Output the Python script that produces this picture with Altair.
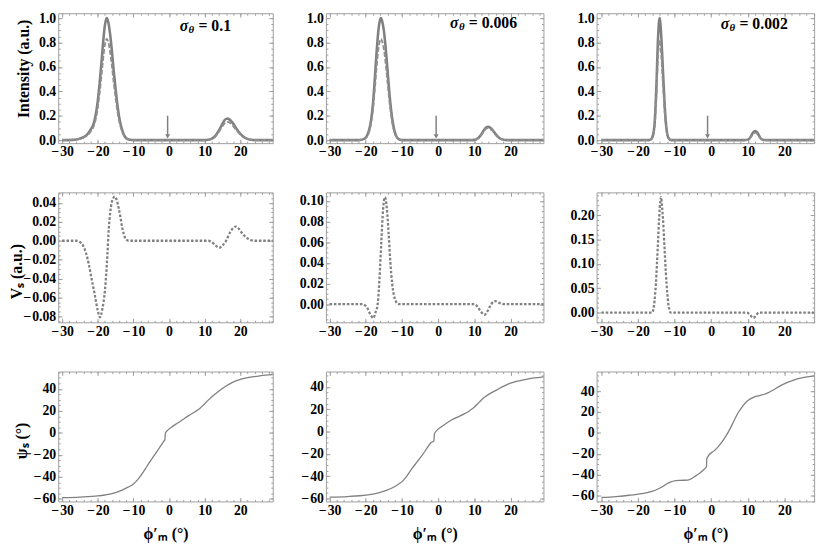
import altair as alt
import pandas as pd

FONT = "Liberation Serif"
LINE = "#808080"
DASH = "#8f8f8f"
FRAME = "#9e9e9e"

# ---------------- layout / annotation values ----------------
X_DOMAINS = [[-31.1, 29.1], [-31.0, 29.1], [-31.3, 28.1]]
WIDTHS = [218, 221, 221]
HEIGHT = 132
SIGMAS = ["0.1", "0.006", "0.002"]
ARROW_X = [-0.4, -0.55, -1.0]
ANNOT_X = [3.0, 3.3, 2.6]
ANNOT_Y = [0.935, 0.96, 0.95]

X_MAJOR = [-30, -20, -10, 0, 10, 20]
X_MINOR = list(range(-30, 30, 2))

# ---------------- Row 1 : Intensity ----------------
int1_x = [-30, -27, -25.5, -24, -23, -22, -21, -20.5, -20, -19.5,
          -19, -18.5, -18, -17.5, -17, -16.5, -16, -15.5, -15, -14.5,
          -14, -13.5, -13, -12.5, -12, -11, -10, 0, 10, 11,
          12, 13, 14, 15, 15.5, 16, 16.5, 17, 18, 19,
          20, 21, 22, 23, 24, 29.1]
int1_solid = [0, 0.002, 0.008, 0.025, 0.045, 0.085, 0.15, 0.22, 0.32, 0.46,
              0.62, 0.8, 0.94, 1.0, 0.96, 0.86, 0.72, 0.56, 0.42, 0.29,
              0.19, 0.12, 0.07, 0.035, 0.015, 0.003, 0, 0, 0, 0.003,
              0.012, 0.035, 0.08, 0.135, 0.16, 0.174, 0.176, 0.168, 0.135, 0.09,
              0.052, 0.025, 0.01, 0.003, 0, 0]
int1_dash = [0, 0.002, 0.007, 0.021, 0.037, 0.07, 0.125, 0.18, 0.265, 0.38,
             0.515, 0.665, 0.78, 0.83, 0.8, 0.715, 0.6, 0.465, 0.35, 0.24,
             0.158, 0.1, 0.058, 0.029, 0.012, 0.002, 0, 0, 0, 0.003,
             0.01, 0.03, 0.068, 0.115, 0.136, 0.148, 0.15, 0.143, 0.115, 0.077,
             0.044, 0.021, 0.008, 0.003, 0, 0]

int2_x = [-30, -22, -21, -20, -19.5, -19, -18.5, -18, -17.5, -17,
          -16.5, -16, -15.8, -15.5, -15, -14.5, -14, -13.5, -13, -12.5,
          -12, -11.5, -11, -10, 0, 9, 10, 10.5, 11, 11.5,
          12, 12.5, 13, 13.7, 14.5, 15, 15.5, 16, 16.5, 17,
          18, 19, 29.1]
int2_solid = [0, 0, 0.004, 0.02, 0.045, 0.09, 0.17, 0.3, 0.5, 0.72,
              0.9, 0.99, 1.0, 0.98, 0.9, 0.76, 0.58, 0.4, 0.25, 0.14,
              0.07, 0.03, 0.01, 0, 0, 0, 0.002, 0.006, 0.015, 0.03,
              0.05, 0.075, 0.097, 0.11, 0.1, 0.085, 0.065, 0.045, 0.028, 0.015,
              0.004, 0, 0]
int2_dash = [0, 0, 0.003, 0.017, 0.037, 0.075, 0.141, 0.249, 0.415, 0.598,
             0.747, 0.822, 0.83, 0.813, 0.747, 0.631, 0.481, 0.332, 0.208, 0.116,
             0.058, 0.025, 0.008, 0, 0, 0, 0.002, 0.005, 0.014, 0.027,
             0.045, 0.068, 0.087, 0.099, 0.09, 0.077, 0.059, 0.041, 0.025, 0.014,
             0.004, 0, 0]

int3_x = [-30, -17, -16.5, -16, -15.5, -15, -14.5, -14.1, -13.7, -13.2,
          -12.7, -12.2, -11.7, -11, 0, 9, 10, 10.5, 11, 11.5,
          12, 12.5, 13, 13.5, 14, 15, 28.1]
int3_solid = [0, 0, 0.005, 0.03, 0.12, 0.42, 0.85, 1.0, 0.88, 0.58,
              0.28, 0.09, 0.02, 0, 0, 0, 0.004, 0.015, 0.04, 0.065,
              0.074, 0.065, 0.04, 0.015, 0.004, 0, 0]
int3_dash = [0, 0, 0.004, 0.025, 0.1, 0.345, 0.7, 0.82, 0.72, 0.475,
             0.23, 0.074, 0.016, 0, 0, 0, 0.003, 0.012, 0.033, 0.053,
             0.061, 0.053, 0.033, 0.012, 0.003, 0, 0]

# ---------------- Row 2 : V_s ----------------
vs1_x = [-30, -26, -25.2, -24, -23.3, -22.5, -21.9, -21.2, -20.7, -20.0,
         -19.4, -18.7, -18.0, -17.3, -16.9, -16.5, -16.1, -15.6, -15.2, -14.6,
         -14.1, -13.6, -13.1, -12.6, -12.2, -11.3,
         11, 12, 13, 14.2, 15, 16, 17, 18, 18.7, 19.5, 20.5, 21.5, 22.5, 23.7, 29.1]
vs1_y = [0, 0, -0.001, -0.006, -0.013, -0.025, -0.037, -0.05, -0.06, -0.074,
         -0.081, -0.072, -0.053, -0.015, 0.013, 0.03, 0.040, 0.0455, 0.0467, 0.042,
         0.034, 0.024, 0.013, 0.006, 0.002, 0,
         0, -0.0015, -0.005, -0.0073, -0.005, 0.0, 0.008, 0.0135, 0.015, 0.013,
         0.008, 0.004, 0.0015, 0, 0]

vs2_x = [-30, -21, -20.5, -19.5, -18.7, -17.9, -17.3, -16.7, -16.2, -15.7,
         -15.2, -14.7, -14.2, -13.7, -13.2, -12.7, -12.3, -11.8, -11.4, -10.5,
         10, 10.8, 11.8, 12.8, 13.6, 14.5, 15.3, 15.8, 16.8, 18.5, 29.1]
vs2_y = [0, 0, -0.0005, -0.004, -0.010, -0.0134, -0.008, 0.0, 0.025, 0.06,
         0.092, 0.1037, 0.094, 0.07, 0.041, 0.02, 0.01, 0.004, 0.001, 0,
         0, -0.002, -0.007, -0.0103, -0.007, -0.001, 0.0025, 0.003, 0.0015, 0, 0]

vs3_x = [-30, -16.1, -15.8, -15.5, -15.1, -14.8, -14.5, -14.2, -13.9, -13.7,
         -13.4, -13.0, -12.7, -12.4, -12.0, -11.7, -11.4, -11.1,
         9.8, 10.5, 11.0, 11.5, 12.0, 12.5, 13.0, 28.1]
vs3_y = [0, 0, 0.006, 0.023, 0.06, 0.103, 0.15, 0.197, 0.228, 0.237,
         0.215, 0.17, 0.125, 0.083, 0.04, 0.017, 0.005, 0,
         0, -0.004, -0.008, -0.011, -0.008, -0.003, 0, 0]

# ---------------- Row 3 : psi_s ----------------
psi1_x = [-30, -25, -20, -16, -13.2, -11.5, -10, -8.8, -7.8, -6.6,
          -5.5, -4.3, -3.2, -2.2, -1.4, -1.15, -1.05, -0.5, 0.5, 1.8,
          3.2, 4.5, 5.9, 7.3, 8.7, 9.8, 11.0, 12.6, 14.2, 16,
          17.8, 20, 22.4, 25.5, 29.1]
psi1_y = [-58.8, -58.3, -57.3, -55.2, -52, -49.3, -46.4, -42.5, -38.2, -32.5,
          -26.9, -21.2, -16, -11.2, -7.2, -6.0, -0.5, 2.0, 4.6, 7.7,
          10.5, 13.5, 16.4, 19.2, 22.3, 25.8, 29.7, 34.3, 38.5, 42.5,
          45.9, 48.5, 50.3, 51.8, 52.8]

psi2_x = [-30, -25, -21.6, -18.5, -16.2, -14.3, -12.6, -11.2, -9.9, -8.5,
          -7.2, -5.8, -4.5, -3.2, -2.0, -1.15, -1.05, -0.5, 0.9, 2.2,
          3.6, 5.4, 7.2, 8.6, 9.9, 11.2, 12.6, 14.4, 16.2, 18,
          19.8, 22, 24.3, 26.5, 29.1]
psi2_y = [-58.7, -58.2, -57.5, -56.2, -54.6, -52.7, -50.3, -47.6, -44.6, -39.2,
          -33, -27.2, -21.6, -15.6, -10, -8.4, -2.5, 0.5, 4.3, 7.3,
          10.1, 13.0, 15.8, 18.5, 21.6, 25.7, 30.2, 34.2, 37.4, 40.5,
          43.1, 45.2, 46.8, 48, 49.1]

psi3_x = [-30, -26, -22.4, -19, -16.2, -14.4, -13.2, -12.2, -11, -10,
          -8.5, -6.4, -5.2, -4.2, -3, -2.0, -1.3, -1.2, -0.5, 0.7,
          1.8, 2.9, 4.0, 5.1, 6.2, 7.3, 8.5, 9.6, 10.7, 11.8,
          13.2, 14.5, 15.6, 16.7, 18.5, 20.2, 22, 23.7, 25.7, 28.1]
psi3_y = [-61.5, -60.6, -59.4, -57.8, -55.7, -53.2, -51, -48.6, -46.6, -45.6,
          -45.2, -44.9, -43.2, -40.9, -38, -34.8, -32.2, -24.5, -20.5, -17.3,
          -13.4, -8.7, -3, 3.7, 11.5, 19.1, 25.2, 29.9, 32.6, 34.5,
          35.8, 37.0, 38.6, 40.6, 44.3, 47.4, 49.9, 52, 53.4, 54.6]


def df(xs, ys):
    return pd.DataFrame({"x": xs, "y": ys})


def minus_expr(fmt):
    return ("datum.value < 0 ? '\u2212\u200a' + format(-datum.value, '%s') "
            ": format(datum.value, '%s')" % (fmt, fmt))


def axis(orient, values, size, fmt=None, **kw):
    args = dict(orient=orient, values=values, tickCount=1000, offset=-size,
                tickSize=size, domain=False, grid=False, ticks=True,
                tickColor=FRAME, tickWidth=1)
    if fmt is not None:
        args.update(labels=True, labelExpr=minus_expr(fmt), labelFlush=False,
                    labelOverlap=False, labelFont=FONT, labelFontWeight="bold")
    else:
        args.update(labels=False, title=None)
    args.update(kw)
    return alt.Axis(**args)


def panel(col, series, ydom, ymaj, ymin, yfmt, ytitle=None, xtitle=None,
          annotate=False):
    xs = alt.Scale(domain=X_DOMAINS[col], nice=False, zero=False)
    ys = alt.Scale(domain=ydom, nice=False, zero=False)
    layers = []
    if xtitle is not None:
        xmain = axis("bottom", X_MAJOR, 4, ".0f", labelPadding=2, title=xtitle,
                     titleY=37, titleBaseline="middle")
    else:
        xmain = axis("bottom", X_MAJOR, 4, ".0f", labelPadding=2, title=None)
    if ytitle is not None:
        ymain = axis("left", ymaj, 4, yfmt, labelPadding=2.5, title=ytitle[0],
                     titleX=ytitle[1], titleY=ytitle[2], titleAngle=270,
                     titleBaseline="middle", titleAlign="center")
    else:
        ymain = axis("left", ymaj, 4, yfmt, labelPadding=2.5, title=None)
    for i, (d, style) in enumerate(series):
        xa = xmain if i == 0 else None
        ya = ymain if i == 0 else None
        layers.append(
            alt.Chart(d).mark_line(interpolate="monotone", **style).encode(
                x=alt.X("x:Q", scale=xs, axis=xa),
                y=alt.Y("y:Q", scale=ys, axis=ya),
            )
        )
    d0 = series[0][0]
    tick_sets = [
        (axis("bottom", X_MINOR, 2), axis("left", ymin, 2)),
        (axis("top", X_MAJOR, 4), axis("right", ymaj, 4)),
        (axis("top", X_MINOR, 2), axis("right", ymin, 2)),
    ]
    for xa, ya in tick_sets:
        layers.append(
            alt.Chart(d0).mark_point(opacity=0, size=1).encode(
                x=alt.X("x:Q", scale=xs, axis=xa),
                y=alt.Y("y:Q", scale=ys, axis=ya),
            )
        )
    if annotate:
        ad = pd.DataFrame({"x": [ANNOT_X[col]], "y": [ANNOT_Y[col]]})
        enc = dict(x=alt.X("x:Q", scale=xs, axis=None),
                   y=alt.Y("y:Q", scale=ys, axis=None))
        common = dict(font=FONT, fontWeight="bold", color="black",
                      align="left", baseline="middle")
        layers.append(alt.Chart(ad).mark_text(text="σ", fontSize=16,
                                              fontStyle="italic", **common).encode(**enc))
        layers.append(alt.Chart(ad).mark_text(text="θ", fontSize=11, dx=9, dy=4,
                                              fontStyle="italic", **common).encode(**enc))
        layers.append(alt.Chart(ad).mark_text(text="= " + SIGMAS[col], fontSize=16,
                                              dx=19, **common).encode(**enc))
        arr = pd.DataFrame({"x": [ARROW_X[col]], "y": [0.2], "y2": [0.045]})
        layers.append(alt.Chart(arr).mark_rule(color=LINE, strokeWidth=1.5).encode(
            x=alt.X("x:Q", scale=xs, axis=None),
            y=alt.Y("y:Q", scale=ys, axis=None), y2="y2:Q"))
        tip = pd.DataFrame({"x": [ARROW_X[col]], "y": [0.03]})
        layers.append(alt.Chart(tip).mark_point(shape="triangle-down", filled=True,
                                                size=26, color=LINE, opacity=1).encode(**enc))
    return alt.layer(*layers).resolve_axis(x="independent", y="independent").properties(
        width=WIDTHS[col], height=HEIGHT)


solid_style = dict(color=LINE, strokeWidth=2.6)
dash_style = dict(color=DASH, strokeWidth=1.9, strokeDash=[5, 2])
dot_style = dict(color=LINE, strokeWidth=2.3, strokeDash=[2.6, 1.8])
thin_style = dict(color=LINE, strokeWidth=1.3)

Y1_MAJ = [0, 0.2, 0.4, 0.6, 0.8, 1.0]
Y1_MIN = [round(i * 0.05, 2) for i in range(0, 21)]
Y3_MAJ = [-60, -40, -20, 0, 20, 40]
Y3_MIN = list(range(-65, 60, 5))
V12_MAJ = [-0.08, -0.06, -0.04, -0.02, 0.0, 0.02, 0.04, 0.06, 0.08, 0.10]
V12_MIN = [round(-0.09 + i * 0.005, 3) for i in range(0, 41)]
V3_MAJ = [0.0, 0.05, 0.10, 0.15, 0.20]
V3_MIN = [round(-0.02 + i * 0.01, 2) for i in range(0, 27)]

XT = "ϕ′ₘ (°)"
panels = [
    panel(0, [(df(int1_x, int1_solid), solid_style), (df(int1_x, int1_dash), dash_style)],
          [-0.025, 1.04], Y1_MAJ, Y1_MIN, ".1f",
          ytitle=("Intensity (a.u.)", -39.5, 56), annotate=True),
    panel(1, [(df(int2_x, int2_solid), solid_style), (df(int2_x, int2_dash), dash_style)],
          [-0.025, 1.04], Y1_MAJ, Y1_MIN, ".1f", annotate=True),
    panel(2, [(df(int3_x, int3_solid), solid_style), (df(int3_x, int3_dash), dash_style)],
          [-0.025, 1.04], Y1_MAJ, Y1_MIN, ".1f", annotate=True),
    panel(0, [(df(vs1_x, vs1_y), dot_style)], [-0.0863, 0.0512], V12_MAJ, V12_MIN, ".2f",
          ytitle=("Vₛ (a.u.)", -46, 80)),
    panel(1, [(df(vs2_x, vs2_y), dot_style)], [-0.0175, 0.1084], V12_MAJ, V12_MIN, ".2f"),
    panel(2, [(df(vs3_x, vs3_y), dot_style)], [-0.02, 0.2467], V3_MAJ, V3_MIN, ".2f"),
    panel(0, [(df(psi1_x, psi1_y), thin_style)], [-62.3, 55.7], Y3_MAJ, Y3_MIN, ".0f",
          ytitle=("ψₛ (°)", -41, 70), xtitle=XT),
    panel(1, [(df(psi2_x, psi2_y), thin_style)], [-62.6, 53.8], Y3_MAJ, Y3_MIN, ".0f",
          xtitle=XT),
    panel(2, [(df(psi3_x, psi3_y), thin_style)], [-65.3, 58.7], Y3_MAJ, Y3_MIN, ".0f",
          xtitle=XT),
]

chart = alt.concat(*panels, columns=3, spacing={"row": 50, "column": 54}, bounds="flush")
chart = chart.configure_view(stroke=FRAME, strokeWidth=1).configure_axis(
    labelFont=FONT, labelFontSize=14, labelFontWeight="bold", labelColor="black",
    titleFont=FONT, titleFontSize=16, titleFontWeight="bold", titleColor="black",
).properties(padding={"left": 0, "top": -2, "right": 2, "bottom": 2}, background="white")

chart.save("out.html", embed_options={"renderer": "svg", "actions": False})
